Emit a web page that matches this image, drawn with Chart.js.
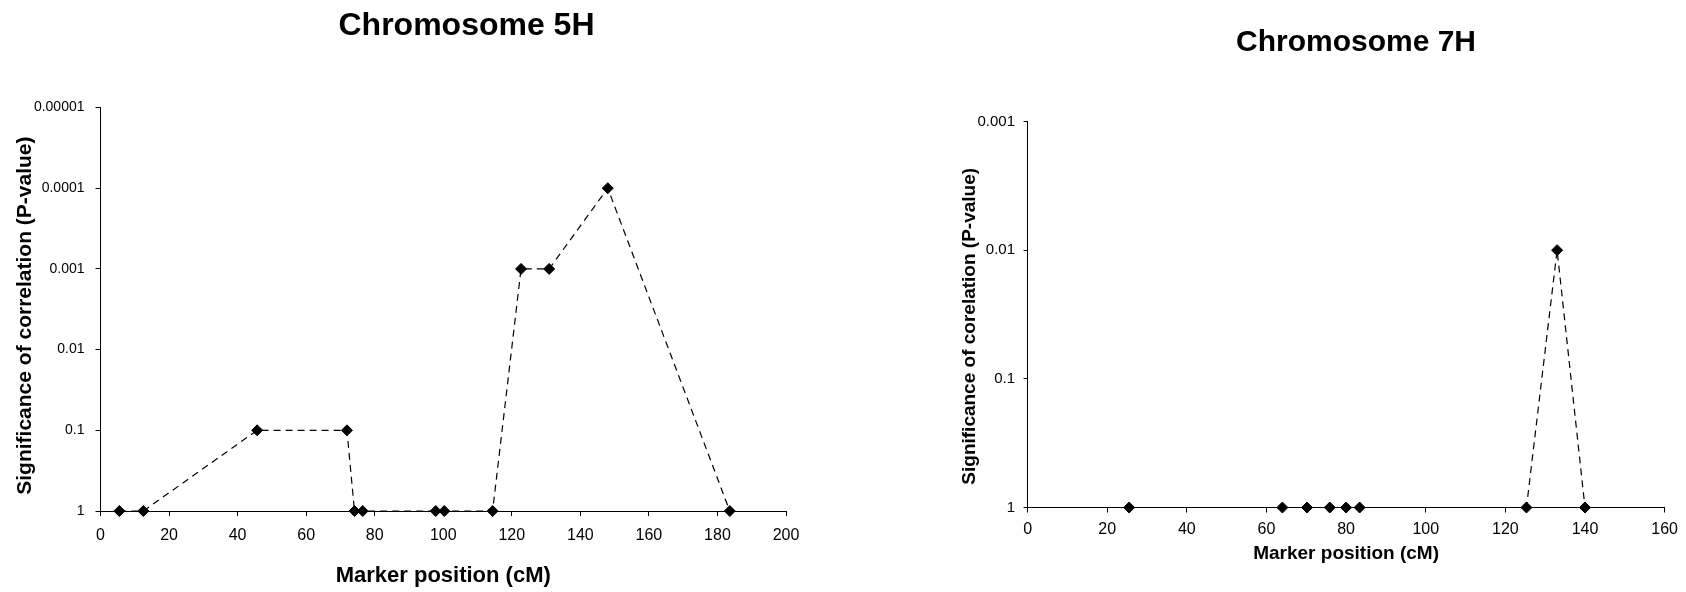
<!DOCTYPE html>
<html>
<head>
<meta charset="utf-8">
<script src="https://cdn.jsdelivr.net/npm/chart.js@4/dist/chart.umd.min.js"></script>
<style>
  html, body { margin: 0; padding: 0; background: #fff; }
  body { width: 1686px; height: 592px; position: relative; overflow: hidden; }
  .box { position: absolute; top: 0; width: 843px; height: 592px; }
  #box5H { left: 0; }
  #box7H { left: 843px; }
</style>
</head>
<body>
<div class="box" id="box5H"><canvas id="chart5H"></canvas></div>
<div class="box" id="box7H"><canvas id="chart7H"></canvas></div>
<script>
// chromosome 5H: marker positions (cM) and p-values
const pos5H = [5.5, 12.5, 45.7, 71.9, 74.1, 76.5, 97.8, 100.3, 114.4, 122.7, 130.9, 148.0, 183.6];
const p5H = [1, 1, 0.1, 0.1, 1, 1, 1, 1, 1, 0.001, 0.001, 0.0001, 1];
const yTicks5H = [1, 0.1, 0.01, 0.001, 0.0001, 0.00001];
const yLabels5H = ['1', '0.1', '0.01', '0.001', '0.0001', '0.00001'];

// chromosome 7H
const pos7H = [25.5, 64.0, 70.2, 75.9, 80.0, 83.4, 125.3, 133.0, 140.0];
const p7H = [1, 1, 1, 1, 1, 1, 1, 0.01, 1];
const yTicks7H = [1, 0.1, 0.01, 0.001];
const yLabels7H = ['1', '0.1', '0.01', '0.001'];

const FONT = '"Liberation Sans", Arial, sans-serif';

// heading and y title sit off-centre in the original, so draw them at fixed spots
const placedText = {
    id: 'placedText',
    afterDraw(chart, args, opts) {
        const ctx = chart.ctx;
        opts.items.forEach(t => {
            ctx.save();
            ctx.font = 'bold ' + t.size + 'px ' + FONT;
            ctx.fillStyle = '#000';
            ctx.textAlign = 'center';
            ctx.textBaseline = 'middle';
            ctx.translate(t.x, t.y);
            if (t.rotate) ctx.rotate(-Math.PI / 2);
            ctx.fillText(t.text, 0, 0);
            ctx.restore();
        });
    }
};

function makeChart(id, cfg) {
    const points = cfg.xs.map((x, i) => ({ x: x, y: cfg.ys[i] }));
    return new Chart(document.getElementById(id), {
        type: 'line',
        data: {
            datasets: [{
                data: points,
                borderColor: '#000',
                borderWidth: 1.2,
                borderDash: [7, 5],
                pointStyle: 'rectRot',
                pointRadius: 5.5,
                pointBackgroundColor: '#000',
                pointBorderColor: '#000',
                pointBorderWidth: 1,
                tension: 0,
                clip: false
            }]
        },
        options: {
            responsive: true,
            maintainAspectRatio: false,
            animation: false,
            layout: { padding: cfg.padding },
            plugins: {
                legend: { display: false },
                tooltip: { enabled: false },
                placedText: { items: [cfg.title, cfg.yTitle] }
            },
            scales: {
                x: {
                    type: 'linear',
                    min: 0,
                    max: cfg.xMax,
                    afterFit: s => { s.height = cfg.xHeight; },
                    ticks: { stepSize: 20, color: '#000', font: { family: FONT, size: 16 }, padding: cfg.xTickPad, maxRotation: 0 },
                    grid: { drawOnChartArea: false, drawTicks: true, tickLength: 5, color: '#000' },
                    border: { color: '#000', width: 1 },
                    title: { display: true, text: 'Marker position (cM)', color: '#000', padding: 0,
                             font: { family: FONT, size: cfg.xTitleSize, weight: 'bold' } }
                },
                y: {
                    type: 'logarithmic',
                    reverse: true,
                    min: cfg.yTicks[cfg.yTicks.length - 1],
                    max: 1,
                    afterFit: s => { s.width = cfg.yWidth; },
                    afterBuildTicks: s => { s.ticks = cfg.yTicks.map(v => ({ value: v })); },
                    ticks: {
                        color: '#000',
                        font: { family: FONT, size: cfg.yTickSize },
                        padding: cfg.yTickPad,
                        callback: v => cfg.yLabels[cfg.yTicks.indexOf(v)]
                    },
                    grid: { drawOnChartArea: false, drawTicks: true, tickLength: cfg.yTickLen, color: '#000' },
                    border: { color: '#000', width: 1 }
                }
            }
        },
        plugins: [placedText]
    });
}

makeChart('chart5H', {
    xs: pos5H, ys: p5H, yTicks: yTicks5H, yLabels: yLabels5H,
    xMax: 200,
    padding: { left: 12.4, top: 107.5, right: 57, bottom: 2.8 },
    yWidth: 88.1, xHeight: 78.2,
    xTickPad: 9.9, yTickPad: 11, yTickLen: 5, yTickSize: 14,
    xTitleSize: 22,
    yTitle: { text: 'Significance of correlation (P-value)', size: 21, x: 25, y: 315.6, rotate: true },
    title: { text: 'Chromosome 5H', size: 32, x: 466.5, y: 26 }
});

makeChart('chart7H', {
    xs: pos7H, ys: p7H, yTicks: yTicks7H, yLabels: yLabels7H,
    xMax: 160,
    padding: { left: 114.9, top: 121.5, right: 21.4, bottom: 26.6 },
    yWidth: 69.7, xHeight: 57.9,
    xTickPad: 7.9, yTickPad: 8.6, yTickLen: 4, yTickSize: 15,
    xTitleSize: 19,
    yTitle: { text: 'Significance of corelation (P-value)', size: 19, x: 126.3, y: 326.3, rotate: true },
    title: { text: 'Chromosome 7H', size: 30, x: 513, y: 42.5 }
});
</script>
</body>
</html>
